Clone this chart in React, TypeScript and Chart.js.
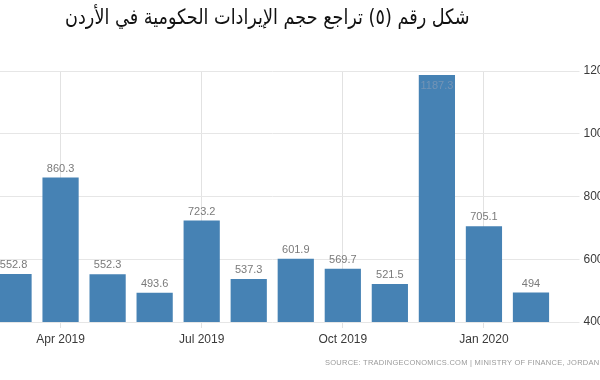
import React, { useEffect, useRef } from "react";
import { Chart, registerables } from "chart.js";

Chart.register(...registerables);

const months = [
  "Mar 2019", "Apr 2019", "May 2019", "Jun 2019", "Jul 2019", "Aug 2019",
  "Sep 2019", "Oct 2019", "Nov 2019", "Dec 2019", "Jan 2020", "Feb 2020",
];
const revenue = [552.8, 860.3, 552.3, 493.6, 723.2, 537.3, 601.9, 569.7, 521.5, 1187.3, 705.1, 494];
const shownLabels = ["Apr 2019", "Jul 2019", "Oct 2019", "Jan 2020"];
const yMin = 400;
const yMax = 1200;
const yStep = 200;
const title = "شكل رقم (٥) تراجع حجم الإيرادات الحكومية في الأردن";
const source = "SOURCE: TRADINGECONOMICS.COM | MINISTRY OF FINANCE, JORDAN";

const valueLabels = {
  id: "valueLabels",
  afterDatasetsDraw(chart: any) {
    const ctx = chart.ctx;
    const meta = chart.getDatasetMeta(0);
    const area = chart.chartArea;
    ctx.save();
    ctx.font = "11px 'Liberation Sans', Arial, sans-serif";
    ctx.textAlign = "center";
    meta.data.forEach((bar: any, i: number) => {
      const v = revenue[i];
      const txt = String(v);
      if (bar.y - 16 < area.top) {
        ctx.fillStyle = "rgba(120,150,182,0.9)";
        ctx.textBaseline = "top";
        ctx.fillText(txt, bar.x, bar.y + 5);
      } else {
        ctx.fillStyle = "#7a7a7a";
        ctx.textBaseline = "alphabetic";
        ctx.fillText(txt, bar.x, bar.y - 6);
      }
    });
    ctx.restore();
  },
};

export default function App() {
  const ref = useRef<HTMLCanvasElement | null>(null);

  useEffect(() => {
    if (!ref.current) return;
    const chart = new Chart(ref.current, {
      type: "bar",
      data: {
        labels: months,
        datasets: [
          {
            data: revenue,
            backgroundColor: "#4682b4",
            borderWidth: 0,
            barPercentage: 0.77,
            categoryPercentage: 1,
          },
        ],
      },
      options: {
        responsive: false,
        animation: false,
        devicePixelRatio: 1,
        layout: { padding: { top: 71, left: 0, right: 0, bottom: 0 } },
        plugins: {
          legend: { display: false },
          tooltip: { enabled: false },
        },
        scales: {
          x: {
            offset: true,
            border: { display: false },
            grid: {
              offset: false,
              tickLength: 6,
              color: (c: any) => (shownLabels.includes(months[c.index]) ? "#e2e2e2" : "rgba(0,0,0,0)"),
            },
            ticks: {
              autoSkip: false,
              maxRotation: 0,
              padding: 4,
              color: "#3a3a3a",
              font: { size: 12, family: "'Liberation Sans', Arial, sans-serif" },
              callback: (_v: any, i: number) => (shownLabels.includes(months[i]) ? months[i] : ""),
            },
            afterFit: (s: any) => {
              s.height = 58;
            },
          },
          y: {
            position: "right",
            min: yMin,
            max: yMax,
            border: { display: false },
            grid: { color: "#e6e6e6", tickLength: 25 },
            ticks: {
              stepSize: yStep,
              padding: 4,
              color: "#3a3a3a",
              font: { size: 12, family: "'Liberation Sans', Arial, sans-serif" },
              callback: (v: any) => String(v),
            },
            afterFit: (s: any) => {
              s.width = 75.5;
            },
          },
        },
      },
      plugins: [valueLabels],
    });
    return () => chart.destroy();
  }, []);

  return (
    <div
      style={{
        position: "fixed",
        left: 0,
        top: 0,
        width: 600,
        height: 380,
        overflow: "hidden",
        background: "#fff",
      }}
    >
      <canvas
        ref={ref}
        width={640}
        height={380}
        style={{ position: "absolute", left: -10, top: 0, width: 640, height: 380 }}
      />
      <div
        dir="rtl"
        style={{
          position: "absolute",
          right: 130,
          top: 5,
          fontFamily: "'DejaVu Sans', sans-serif",
          fontSize: 21,
          color: "#111",
          whiteSpace: "nowrap",
          transform: "scaleX(0.84)",
          transformOrigin: "right center",
        }}
      >
        {title}
      </div>
      <div
        style={{
          position: "absolute",
          left: 325,
          top: 358,
          fontFamily: "'Liberation Sans', Arial, sans-serif",
          fontSize: 7.5,
          letterSpacing: 0.25,
          color: "#9a9a9a",
          whiteSpace: "nowrap",
        }}
      >
        {source}
      </div>
    </div>
  );
}
